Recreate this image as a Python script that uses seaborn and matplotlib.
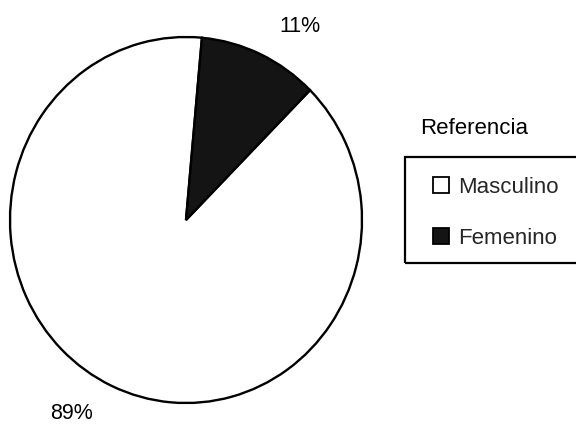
import numpy as np
import matplotlib
matplotlib.use("Agg")
import matplotlib.pyplot as plt
from matplotlib.patches import Patch, Rectangle
import seaborn as sns

# data
categorias = ["Masculino", "Femenino"]
porcentajes = [89, 11]
colores = ["white", "#141414"]
titulo_leyenda = "Referencia"

sns.set_theme(style="white")
plt.rcParams['font.family'] = ['Liberation Sans', 'DejaVu Sans']

fig = plt.figure(figsize=(5.76, 4.26), dpi=100)
ax = fig.add_axes([10 / 576, 23 / 426, 352 / 576, 366 / 426])

wedges, _ = ax.pie(porcentajes, colors=colores, startangle=84.8, counterclock=True,
                   radius=1, frame=False,
                   wedgeprops=dict(edgecolor="black", linewidth=1.7))
ax.set_aspect("auto")
ax.set_xlim(-1, 1)
ax.set_ylim(-1, 1)

# percentage labels outside the pie, a bit clockwise of each wedge's middle
for w, p in zip(wedges, porcentajes):
    ang = np.deg2rad((w.theta1 + w.theta2) / 2 - 6.5)
    ax.text(1.24 * np.cos(ang), 1.24 * np.sin(ang), f"{p}%",
            ha="center", va="center", fontsize=15.5, color="black")

# legend entries without frame, box drawn separately (it runs off the right edge)
handles = [Patch(facecolor=c, edgecolor="black", linewidth=1.3) for c in colores]
leg = fig.legend(handles, categorias, loc="upper left",
                 bbox_to_anchor=(433 / 576, 1 - 177 / 426),
                 borderaxespad=0, fontsize=16,
                 handlelength=0.7, handleheight=0.7, handletextpad=0.45,
                 labelspacing=1.33, borderpad=0, frameon=False)

fig.patches.append(Rectangle((405 / 576, 1 - 263 / 426), 0.4, 106 / 426,
                             transform=fig.transFigure, facecolor="none",
                             edgecolor="black", linewidth=1.6))

fig.text(420 / 576, 1 - 128 / 426, titulo_leyenda, ha="left", va="center",
         fontsize=16, color="black")

fig.savefig("out.png", dpi=100)
